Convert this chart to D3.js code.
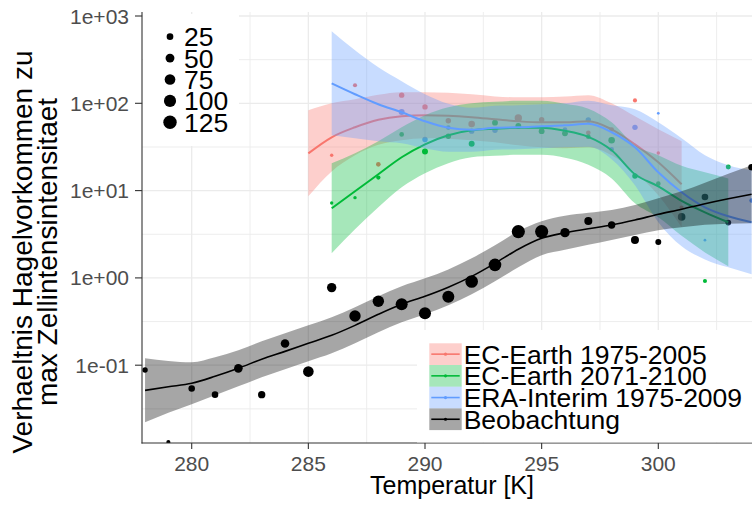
<!DOCTYPE html>
<html>
<head>
<meta charset="utf-8">
<script src="https://cdn.jsdelivr.net/npm/d3@7"></script>
<style>
  body { margin: 0; background: #fff; }
  svg { display: block; font-family: "Liberation Sans", Arial, sans-serif; }
</style>
</head>
<body>
<script>
// ---- data ----
// Beobachtung points
const obsTemp  = [278, 279, 280, 281, 282, 283, 284, 285, 286, 287, 288, 289, 290, 291, 292, 293, 294, 295, 296, 297, 298, 299, 300, 301, 302, 303, 304];
const obsRatio = [0.088, 0.0132, 0.054, 0.046, 0.092, 0.046, 0.177, 0.0845, 0.774, 0.366, 0.54, 0.50, 0.394, 0.61, 0.91, 1.41, 3.39, 3.39, 3.3, 4.49, 4.04, 2.72, 2.58, 5.0, 8.45, 4.3, 18.5];
const obsCount = [15, 7, 24, 24, 46, 32, 46, 74, 56, 87, 87, 98, 98, 98, 110, 110, 120, 120, 56, 39, 32, 39, 19, 35, 25, 18, 25];

// EC-Earth 1975-2005 points
const ecHistTemp  = [286, 287, 288, 289, 290, 291, 292, 294, 295, 297, 298, 299, 300, 301];
const ecHistRatio = [25.4, 161, 20, 124, 91, 63, 58, 68, 65, 46, 50, 108, 27, 6.4];
const ecHistCount = [4, 7, 10, 15, 15, 15, 24, 32, 15, 10, 10, 7, 4, 8];

// EC-Earth 2071-2100 points
const ecFutTemp  = [286, 287, 288, 289, 290, 291, 292, 293, 294, 295, 296, 297, 298, 299, 300, 302, 303];
const ecFutRatio = [7.2, 8.3, 14.1, 44, 28, 42, 34.5, 60, 55, 48, 45.3, 41.5, 37.7, 14.7, 12, 0.92, 18.6];
const ecFutCount = [4, 4, 8, 10, 19, 15, 19, 18, 18, 18, 18, 10, 24, 15, 10, 7, 12];

// ERA-Interim 1975-2009 points
const eraTemp  = [289, 290, 291, 292, 293, 296, 297, 298, 299, 300, 302, 304];
const eraRatio = [79.6, 38.4, 52.7, 48, 49, 50, 64.4, 29.7, 53, 76.8, 2.7, 7.7];
const eraCount = [19, 15, 10, 15, 15, 10, 15, 10, 15, 2, 2, 10];

// smoothed fits with confidence bands
const obsFitTemp = [278, 279, 280, 281, 282, 283, 284, 285, 286, 287, 288, 289, 290, 291, 292, 293, 294, 295, 296, 297, 298, 299, 300, 301, 302, 303, 304];
const obsFit = [0.0515, 0.0566, 0.0621, 0.0746, 0.0923, 0.117, 0.144, 0.178, 0.220, 0.286, 0.383, 0.499, 0.615, 0.781, 1.04, 1.47, 2.13, 2.84, 3.29, 3.65, 4.04, 4.61, 5.35, 6.11, 7.06, 8.05, 9.08];
const obsLo  = [0.0222, 0.0285, 0.0356, 0.0452, 0.0573, 0.0726, 0.0897, 0.111, 0.137, 0.178, 0.238, 0.310, 0.383, 0.485, 0.649, 0.914, 1.32, 1.82, 2.10, 2.39, 2.72, 3.10, 3.51, 3.80, 4.06, 4.17, 4.22];
const obsHi  = [0.120, 0.112, 0.108, 0.123, 0.148, 0.188, 0.232, 0.286, 0.354, 0.461, 0.615, 0.801, 0.989, 1.25, 1.68, 2.36, 3.42, 4.45, 5.14, 5.57, 6.00, 6.84, 8.17, 9.82, 12.3, 15.6, 19.5];

const ecHistFitTemp = [285, 286, 287, 288, 289, 290, 291, 292, 293, 294, 295, 296, 297, 298, 299, 300, 301];
const ecHistFit = [26.7, 40.8, 53.1, 64.7, 71.0, 72.9, 71.9, 69.2, 65.6, 62.2, 60.5, 60.5, 62.2, 50.4, 33.9, 21.1, 11.8];
const ecHistLo  = [8.61, 16.6, 25.4, 33.5, 37.7, 39.7, 39.2, 37.7, 35.7, 33.0, 31.3, 30.5, 31.3, 25.4, 16.2, 8.83, 3.80];
const ecHistHi  = [83.2, 100, 111, 125, 134, 134, 132, 127, 120, 117, 117, 120, 124, 100, 71.0, 50.4, 36.7];

const ecFutFitTemp = [286, 287, 288, 289, 290, 291, 292, 293, 294, 295, 296, 297, 298, 299, 300, 301, 302, 303];
const ecFutFit = [6.27, 9.82, 15.4, 24.1, 33.9, 43.0, 49.1, 51.1, 52.4, 52.4, 48.4, 41.3, 29.0, 15.4, 11.2, 7.64, 5.64, 4.34];
const ecFutLo  = [1.91, 3.61, 6.44, 10.9, 15.8, 20.6, 24.1, 25.0, 25.7, 25.7, 23.8, 19.8, 13.8, 7.16, 4.94, 3.03, 1.96, 1.36];
const ecFutHi  = [20.6, 26.7, 36.7, 53.1, 72.9, 90.0, 100, 104, 107, 107, 98.7, 86.5, 60.5, 33.0, 25.4, 19.2, 16.2, 13.8];

const eraFitTemp = [286, 287, 288, 289, 290, 291, 292, 293, 294, 295, 296, 297, 298, 299, 300, 301, 302, 303, 304];
const eraFit = [169, 127, 97.4, 78.9, 62.2, 52.4, 49.7, 52.4, 53.1, 54.6, 56.0, 58.2, 46.6, 31.3, 16.2, 9.57, 6.44, 5.08, 4.34];
const eraLo  = [43.0, 39.7, 36.7, 34.8, 30.5, 27.8, 27.8, 29.3, 29.7, 30.5, 31.3, 31.8, 22.9, 11.5, 4.34, 2.30, 1.63, 1.32, 1.10];
const eraHi  = [668, 405, 258, 179, 127, 98.7, 88.8, 93.6, 94.9, 97.4, 100, 107, 94.9, 85.3, 60.5, 39.7, 25.4, 19.5, 17.1];

const seriesNames = ['EC-Earth 1975-2005', 'EC-Earth 2071-2100', 'ERA-Interim 1975-2009', 'Beobachtung'];
const seriesColors = ['#F8766D', '#00BA38', '#619CFF', '#000000'];
const sizeBreaks = [25, 50, 75, 100, 125];
const xTicks = [280, 285, 290, 295, 300];
const xMinor = [282.5, 287.5, 292.5, 297.5, 302.5];
const yTicks = [0.1, 1, 10, 100, 1000];
const yTickLabels = ['1e-01', '1e+00', '1e+01', '1e+02', '1e+03'];
const yMinor = [0.0316, 0.316, 3.16, 31.6, 316];

// ---- build ----
const W = 752, H = 507;
const panel = { left: 142, right: 752, top: 12, bottom: 443 };

const x = d3.scaleLinear().domain([280, 300]).range([191.7, 658.3]);
const y = d3.scaleLog().domain([0.1, 1000]).range([365.2, 16]);
const r = d3.scaleSqrt().domain([0, 125]).range([0.6, 6.7]);
const color = d3.scaleOrdinal().domain(seriesNames).range(seriesColors);
const ribbonAlpha = 0.35;

const svg = d3.select('body').append('svg').attr('width', W).attr('height', H);
svg.append('rect').attr('width', W).attr('height', H).attr('fill', '#fff');

svg.append('clipPath').attr('id', 'panel')
  .append('rect')
  .attr('x', panel.left).attr('y', panel.top)
  .attr('width', panel.right - panel.left).attr('height', panel.bottom - panel.top);

const grid = svg.append('g').attr('stroke', '#ebebeb');
grid.selectAll('.hmin').data(yMinor).join('line')
  .attr('x1', panel.left).attr('x2', panel.right)
  .attr('y1', (d) => y(d)).attr('y2', (d) => y(d))
  .attr('stroke-width', 0.9)
  .attr('display', (d) => (y(d) > panel.top && y(d) < panel.bottom ? null : 'none'));
grid.selectAll('.vmin').data(xMinor).join('line')
  .attr('y1', panel.top).attr('y2', panel.bottom)
  .attr('x1', (d) => x(d)).attr('x2', (d) => x(d))
  .attr('stroke-width', 0.9);
grid.selectAll('.hmaj').data(yTicks).join('line')
  .attr('x1', panel.left).attr('x2', panel.right)
  .attr('y1', (d) => y(d)).attr('y2', (d) => y(d))
  .attr('stroke-width', 1.3);
grid.selectAll('.vmaj').data(xTicks).join('line')
  .attr('y1', panel.top).attr('y2', panel.bottom)
  .attr('x1', (d) => x(d)).attr('x2', (d) => x(d))
  .attr('stroke-width', 1.3);

const plot = svg.append('g').attr('clip-path', 'url(#panel)');

function pointsOf(temp, ratio, count, name) {
  return temp.map((t, i) => ({ t: t, v: ratio[i], n: count[i], name: name }));
}
function fitOf(temp, fit, lo, hi) {
  return temp.map((t, i) => ({ t: t, v: fit[i], lo: lo[i], hi: hi[i] }));
}

const allPoints = [
  ...pointsOf(obsTemp, obsRatio, obsCount, 'Beobachtung'),
  ...pointsOf(ecHistTemp, ecHistRatio, ecHistCount, 'EC-Earth 1975-2005'),
  ...pointsOf(ecFutTemp, ecFutRatio, ecFutCount, 'EC-Earth 2071-2100'),
  ...pointsOf(eraTemp, eraRatio, eraCount, 'ERA-Interim 1975-2009'),
];

plot.append('g').selectAll('circle').data(allPoints).join('circle')
  .attr('cx', (d) => x(d.t)).attr('cy', (d) => y(d.v))
  .attr('r', (d) => r(d.n))
  .attr('fill', (d) => color(d.name));

const smooths = [
  { name: 'EC-Earth 1975-2005', data: fitOf(ecHistFitTemp, ecHistFit, ecHistLo, ecHistHi) },
  { name: 'EC-Earth 2071-2100', data: fitOf(ecFutFitTemp, ecFutFit, ecFutLo, ecFutHi) },
  { name: 'ERA-Interim 1975-2009', data: fitOf(eraFitTemp, eraFit, eraLo, eraHi) },
  { name: 'Beobachtung', data: fitOf(obsFitTemp, obsFit, obsLo, obsHi) },
];

const area = d3.area().curve(d3.curveMonotoneX)
  .x((d) => x(d.t)).y0((d) => y(d.lo)).y1((d) => y(d.hi));
const line = d3.line().curve(d3.curveMonotoneX)
  .x((d) => x(d.t)).y((d) => y(d.v));

smooths.forEach((s) => {
  plot.append('path').datum(s.data)
    .attr('d', area)
    .attr('fill', color(s.name)).attr('fill-opacity', ribbonAlpha);
  plot.append('path').datum(s.data)
    .attr('d', line)
    .attr('fill', 'none')
    .attr('stroke', color(s.name))
    .attr('stroke-width', s.name === 'Beobachtung' ? 1.6 : 2);
});

// axes
const axisCol = '#4d4d4d';
svg.append('line').attr('x1', panel.left).attr('x2', panel.left)
  .attr('y1', panel.top).attr('y2', panel.bottom + 0.5)
  .attr('stroke', '#333').attr('stroke-width', 1.1);
svg.append('line').attr('x1', panel.left - 0.5).attr('x2', panel.right)
  .attr('y1', panel.bottom).attr('y2', panel.bottom)
  .attr('stroke', '#333').attr('stroke-width', 1.1);

const yAx = svg.append('g');
yAx.selectAll('line').data(yTicks).join('line')
  .attr('x1', panel.left - 7).attr('x2', panel.left)
  .attr('y1', (d) => y(d)).attr('y2', (d) => y(d))
  .attr('stroke', '#333').attr('stroke-width', 1.1);
yAx.selectAll('text').data(yTicks).join('text')
  .attr('x', panel.left - 13).attr('y', (d) => y(d))
  .attr('dy', '0.36em')
  .attr('text-anchor', 'end')
  .attr('font-size', 21)
  .attr('fill', axisCol)
  .text((d, i) => yTickLabels[i]);

const xAx = svg.append('g');
xAx.selectAll('line').data(xTicks).join('line')
  .attr('x1', (d) => x(d)).attr('x2', (d) => x(d))
  .attr('y1', panel.bottom).attr('y2', panel.bottom + 6)
  .attr('stroke', '#333').attr('stroke-width', 1.1);
xAx.selectAll('text').data(xTicks).join('text')
  .attr('x', (d) => x(d)).attr('y', panel.bottom + 28)
  .attr('text-anchor', 'middle')
  .attr('font-size', 21)
  .attr('fill', axisCol)
  .text((d) => d);

svg.append('text')
  .attr('x', 452).attr('y', 494)
  .attr('text-anchor', 'middle')
  .attr('font-size', 25)
  .attr('fill', '#000')
  .text('Temperatur [K]');

const yTitle = svg.append('text')
  .attr('transform', 'translate(0,252) rotate(-90)')
  .attr('text-anchor', 'middle')
  .attr('font-size', 28)
  .attr('fill', '#000');
yTitle.append('tspan').attr('x', 0).attr('y', 32).text('Verhaeltnis Hagelvorkommen zu');
yTitle.append('tspan').attr('x', 0).attr('y', 57).text('max Zellintensintensitaet');

// size legend
const sizeLeg = svg.append('g');
sizeLeg.append('rect').attr('x', panel.left + 1).attr('y', 14).attr('width', 96).attr('height', 132).attr('fill', '#fff');
const sizeItems = sizeLeg.selectAll('g').data(sizeBreaks).join('g')
  .attr('transform', (d, i) => 'translate(170,' + (36.7 + i * 21.4) + ')');
sizeItems.append('circle').attr('r', (d) => r(d)).attr('fill', '#000');
sizeItems.append('text').attr('x', 14).attr('dy', '0.36em')
  .attr('font-size', 26.5).attr('fill', '#000').text((d) => d);

// colour legend
const colLeg = svg.append('g');
colLeg.append('rect').attr('x', 417).attr('y', 330).attr('width', 340).attr('height', panel.bottom - 330 - 0.6).attr('fill', '#fff');
const keyW = 32.4, keyH = 21.7;
const items = colLeg.selectAll('g').data(seriesNames).join('g')
  .attr('transform', (d, i) => 'translate(429.3,' + (343.3 + i * keyH) + ')');
items.append('rect').attr('width', keyW).attr('height', keyH)
  .attr('fill', (d) => color(d)).attr('fill-opacity', ribbonAlpha);
items.append('line').attr('x1', 2).attr('x2', keyW - 2)
  .attr('y1', keyH / 2).attr('y2', keyH / 2)
  .attr('stroke', (d) => color(d)).attr('stroke-width', 1.6);
items.append('circle').attr('cx', keyW / 2).attr('cy', keyH / 2).attr('r', 1.6)
  .attr('fill', (d) => color(d));
items.append('text').attr('x', keyW + 2).attr('y', keyH / 2).attr('dy', '0.36em')
  .attr('font-size', 26.5).attr('fill', '#000').text((d) => d);
</script>
</body>
</html>
